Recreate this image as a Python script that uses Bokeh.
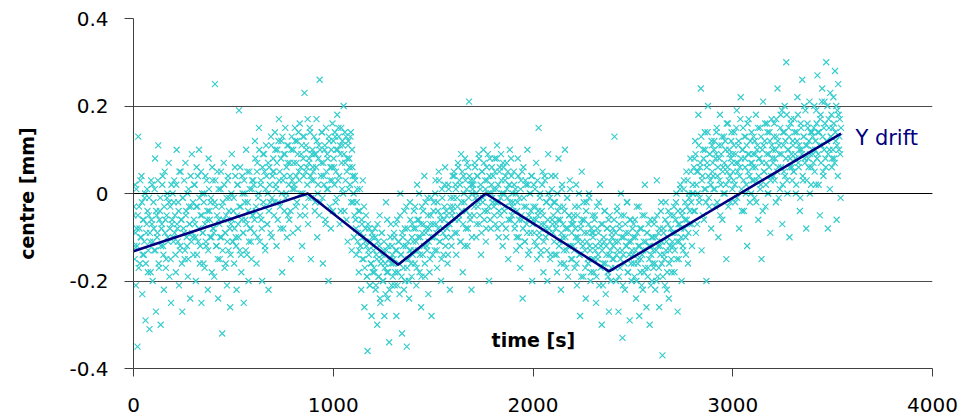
import numpy as np
from bokeh.plotting import figure
from bokeh.models import Range1d, FixedTicker, Label, Span
from bokeh.embed import file_html
from bokeh.resources import INLINE

# ---- data -------------------------------------------------------------
sample_step = 4  # seconds between samples of each channel read-out

# samples at t = 0, 4, 8, ... s
centre_y = [
    -0.05, -0.12, 0.02, -0.21, -0.08, -0.35, 0.13, -0.03, -0.16, -0.10, 0.04, -0.23, -0.06, -0.14, -0.01, -0.29, -0.09, 0.01, -0.18, -0.05, -0.31, -0.11, 0.03, -0.07, -0.20,
    -0.02, -0.13, 0.08, -0.27, -0.05, -0.09, 0.11, -0.17, -0.04, -0.30, -0.08, 0.02, -0.12, -0.22, 0.05, -0.06, -0.15, -0.01, -0.10, 0.07, -0.19, -0.03, -0.25, -0.07, 0.00,
    -0.11, 0.03, -0.05, -0.18, 0.10, -0.08, -0.02, -0.21, -0.13, 0.05, -0.06, -0.27, -0.01, -0.09, -0.15, 0.07, -0.04, -0.12, -0.19, 0.01, -0.07, -0.24, -0.03, 0.09, -0.10,
    -0.14, 0.02, -0.07, -0.20, 0.06, -0.03, -0.11, 0.10, -0.16, -0.05, -0.25, 0.00, -0.09, -0.02, -0.17, 0.04, -0.12, -0.06, -0.22, 0.08, -0.04, -0.10, -0.01, -0.18, 0.03,
    -0.08, -0.19, 0.25, -0.03, -0.12, 0.05, -0.24, -0.06, -0.15, 0.01, -0.10, -0.32, -0.02, 0.07, -0.17, -0.09, -0.05, -0.21, 0.03, -0.13, -0.01, -0.26, -0.07, 0.09, -0.11,
    -0.04, -0.16, 0.06, -0.10, -0.22, 0.02, -0.07, 0.19, -0.13, -0.03, -0.18, 0.04, -0.09, -0.25, 0.00, -0.06, 0.10, -0.14, -0.02, -0.20, 0.05, -0.08, -0.11, 0.01, -0.05,
    0.03, -0.09, 0.12, -0.04, -0.16, 0.07, -0.01, 0.15, -0.11, 0.02, -0.06, -0.20, 0.09, -0.03, 0.05, -0.13, 0.11, -0.07, 0.00, -0.22, 0.06, -0.02, 0.13, -0.10, 0.04,
    0.08, -0.05, 0.14, 0.02, -0.12, 0.10, -0.02, 0.17, 0.05, -0.08, 0.12, -0.18, 0.03, 0.09, -0.04, 0.15, 0.00, -0.10, 0.07, 0.11, -0.06, 0.04, -0.15, 0.13, 0.01,
    0.10, 0.02, 0.15, -0.03, 0.07, 0.12, -0.08, 0.05, 0.16, 0.00, 0.09, -0.12, 0.13, 0.04, 0.23, -0.05, 0.11, 0.06, 0.17, -0.01, 0.08, 0.14, -0.15, 0.03, 0.10,
    0.05, 0.13, -0.04, 0.09, 0.17, -0.10, 0.02, 0.11, 0.26, -0.02, 0.07, 0.14, -0.16, 0.04, 0.10, -0.06, 0.15, 0.01, 0.08, -0.20, 0.12, 0.03, -0.08, 0.06, 0.16,
    0.12, 0.06, 0.14, -0.02, 0.10, 0.18, 0.03, 0.13, -0.07, 0.09, 0.15, 0.01, 0.11, 0.20, -0.04, 0.07, 0.13, 0.05, -0.11, 0.12, 0.08, 0.02, 0.14, -0.13, 0.06,
    -0.02, -0.10, 0.04, -0.06, -0.14, 0.01, -0.09, -0.18, -0.04, -0.12, -0.22, -0.07, 0.03, -0.15, -0.26, -0.11, -0.05, -0.19, -0.36, -0.13, -0.08, -0.21, -0.16, -0.28, -0.10,
    -0.12, -0.17, -0.08, -0.22, -0.14, -0.30, -0.11, -0.19, -0.05, -0.25, -0.15, -0.09, -0.20, -0.13, -0.28, -0.16, -0.02, -0.18, -0.24, -0.12, -0.34, -0.15, -0.07, -0.21, -0.14,
    -0.16, -0.09, -0.21, -0.13, -0.28, -0.06, -0.18, -0.11, -0.23, 0.00, -0.14, -0.32, -0.10, -0.17, -0.04, -0.20, -0.12, -0.35, -0.08, -0.15, -0.24, -0.02, -0.13, -0.19, -0.07,
    -0.11, -0.04, -0.16, -0.08, -0.21, 0.02, -0.13, -0.06, -0.18, -0.10, -0.26, -0.03, -0.14, -0.07, 0.04, -0.19, -0.09, -0.12, -0.01, -0.23, -0.08, -0.15, -0.05, -0.28, -0.10,
    -0.07, -0.02, -0.13, 0.03, -0.09, -0.17, -0.04, 0.05, -0.11, -0.06, -0.20, 0.01, -0.08, -0.14, -0.03, 0.06, -0.10, -0.05, -0.16, 0.02, -0.07, -0.22, -0.01, -0.12, -0.04,
    -0.03, 0.05, -0.09, 0.02, -0.14, -0.01, 0.07, -0.06, 0.03, -0.11, 0.09, -0.04, -0.18, 0.04, -0.02, 0.08, -0.08, 0.01, -0.12, 0.06, 0.21, -0.05, 0.03, -0.22, 0.00,
    0.02, -0.05, 0.07, -0.01, -0.10, 0.04, -0.03, 0.09, -0.07, 0.01, -0.14, 0.05, -0.02, 0.10, -0.06, 0.03, -0.11, 0.06, -0.04, 0.00, -0.20, 0.08, -0.08, 0.02, -0.01,
    0.04, -0.03, 0.08, -0.07, 0.01, 0.11, -0.02, -0.10, 0.05, -0.05, 0.09, 0.00, -0.12, 0.06, -0.04, 0.03, -0.08, 0.07, -0.01, -0.15, 0.02, 0.10, -0.06, 0.04, -0.03,
    -0.02, 0.05, -0.08, 0.01, -0.13, -0.04, 0.08, -0.10, -0.01, -0.17, 0.03, -0.06, -0.24, 0.06, -0.03, -0.11, 0.02, -0.07, 0.10, -0.14, -0.05, 0.00, -0.09, 0.04, -0.20,
    -0.06, 0.02, -0.11, -0.03, 0.07, -0.15, -0.05, 0.15, -0.09, 0.00, -0.13, -0.04, 0.05, -0.18, -0.07, 0.03, -0.10, -0.02, -0.20, 0.09, -0.08, -0.01, -0.14, 0.04, -0.06,
    -0.09, -0.02, -0.14, 0.04, -0.07, -0.18, -0.04, 0.08, -0.11, -0.06, -0.22, 0.01, -0.10, -0.03, -0.16, 0.10, -0.08, -0.13, -0.01, -0.19, -0.05, 0.03, -0.12, -0.07, -0.15,
    -0.12, -0.05, -0.17, -0.08, 0.02, -0.21, -0.10, -0.03, -0.14, -0.28, -0.07, 0.05, -0.11, -0.19, -0.06, -0.13, -0.24, -0.02, -0.09, -0.16, 0.00, -0.12, -0.20, -0.08, -0.15,
    -0.10, -0.18, -0.06, -0.13, -0.25, -0.03, -0.15, -0.09, -0.21, 0.02, -0.12, -0.30, -0.07, -0.16, -0.11, -0.04, -0.23, -0.14, -0.08, -0.19, -0.27, -0.05, -0.13, -0.17, -0.10,
    -0.08, -0.15, 0.13, -0.11, -0.20, -0.04, -0.13, -0.27, -0.07, -0.17, 0.00, -0.10, -0.33, -0.14, -0.05, -0.22, -0.09, -0.12, -0.02, -0.18, -0.11, -0.29, -0.06, -0.16, -0.13,
    -0.14, -0.07, -0.19, -0.10, -0.24, -0.03, -0.16, -0.12, -0.28, -0.08, -0.15, -0.21, -0.05, -0.13, -0.18, 0.02, -0.11, -0.26, -0.09, -0.17, -0.12, -0.30, -0.06, -0.14, -0.20,
    -0.10, -0.17, -0.06, -0.22, -0.13, 0.03, -0.19, -0.09, -0.26, -0.12, -0.04, -0.16, -0.37, -0.08, -0.14, -0.21, -0.02, -0.11, -0.18, -0.07, -0.24, -0.13, -0.05, -0.15, -0.09,
    -0.12, -0.05, -0.18, -0.09, -0.02, -0.15, -0.27, -0.07, -0.11, 0.01, -0.08, -0.20, -0.04, -0.13, 0.03, -0.06, -0.10, 0.05, -0.03, -0.16, 0.00, -0.07, 0.08, -0.02, -0.12,
    0.02, -0.04, 0.08, 0.12, -0.09, 0.05, 0.00, 0.18, -0.02, 0.06, 0.24, -0.13, 0.04, 0.10, -0.06, 0.14, 0.01, -0.20, 0.07, 0.20, -0.01, 0.09, 0.03, -0.08, 0.11,
    0.07, 0.01, 0.12, -0.03, 0.09, 0.15, 0.04, -0.10, 0.08, 0.18, 0.02, 0.11, -0.06, 0.06, 0.13, 0.00, 0.10, -0.15, 0.05, 0.16, 0.03, 0.09, -0.02, 0.12, 0.07,
    0.09, 0.03, 0.14, -0.02, 0.07, 0.19, 0.05, 0.11, -0.08, 0.06, 0.22, 0.01, 0.10, 0.15, -0.04, 0.08, 0.13, 0.02, -0.12, 0.09, 0.17, 0.04, 0.12, 0.00, 0.07,
    0.06, 0.13, -0.01, 0.09, 0.18, 0.03, 0.11, -0.06, 0.08, 0.15, 0.02, -0.15, 0.10, 0.21, 0.05, 0.12, -0.03, 0.07, 0.16, 0.00, 0.09, 0.14, -0.09, 0.04, 0.11,
    0.10, 0.04, 0.16, 0.08, -0.02, 0.13, 0.24, 0.06, 0.11, 0.01, 0.18, 0.09, -0.07, 0.14, 0.05, 0.20, 0.12, 0.30, 0.03, 0.10, 0.15, -0.10, 0.08, 0.17, 0.06,
    0.12, 0.05, 0.17, 0.09, 0.00, 0.14, 0.22, 0.07, 0.11, -0.04, 0.16, 0.10, 0.26, 0.03, 0.13, 0.08, 0.19, -0.08, 0.11, 0.15, 0.06, 0.21, 0.09, 0.02, 0.14,
    0.13, 0.07, 0.20, 0.10, 0.02, 0.16, 0.27, 0.09, 0.14, -0.05, 0.18, 0.11, 0.24, 0.05, 0.15, 0.21, 0.08, 0.30, 0.12, -0.08, 0.17, 0.10, 0.23, 0.13, 0.06,
    0.15, 0.22, 0.08, 0.28, 0.12, -0.06, 0.19, 0.25, 0.10, 0.17, -0.01,
]

# samples at t = 2, 6, 10, ... s
centre_y_b = [
    -0.03, -0.15, -0.09, 0.01, -0.12, -0.05, -0.17, -0.08, 0.03, -0.10, -0.02, -0.14, -0.06, -0.11, 0.00, -0.16, -0.07, -0.04, -0.13, -0.01, -0.09, -0.18, -0.06, 0.02, -0.11,
    -0.08, 0.01, -0.13, -0.04, -0.10, 0.03, -0.16, -0.06, -0.01, -0.12, -0.07, 0.04, -0.14, -0.03, -0.09, -0.17, -0.05, 0.00, -0.11, -0.02, -0.08, -0.15, 0.02, -0.06, -0.10,
    -0.02, -0.09, -0.14, 0.02, -0.07, -0.11, -0.04, 0.05, -0.12, -0.06, -0.16, -0.01, -0.08, 0.03, -0.13, -0.05, -0.10, 0.00, -0.15, -0.03, -0.07, 0.04, -0.11, -0.09, -0.02,
    -0.06, 0.02, -0.10, -0.03, -0.14, 0.04, -0.08, -0.01, -0.12, 0.05, -0.05, -0.09, -0.16, 0.00, -0.07, -0.11, 0.03, -0.04, -0.13, 0.01, -0.06, -0.02, -0.10, 0.06, -0.08,
    -0.09, -0.02, 0.03, -0.12, -0.05, -0.15, 0.01, -0.07, -0.10, 0.05, -0.03, -0.13, -0.06, 0.02, -0.09, -0.16, -0.01, -0.11, 0.04, -0.04, -0.08, -0.14, 0.00, -0.06, -0.11,
    -0.01, -0.08, 0.04, -0.12, -0.05, 0.02, -0.10, -0.03, 0.06, -0.14, -0.06, 0.00, -0.09, 0.03, -0.02, -0.13, -0.07, 0.05, -0.04, -0.11, 0.01, -0.08, -0.15, 0.03, -0.05,
    0.02, -0.06, 0.08, -0.03, 0.05, -0.10, 0.00, 0.10, -0.05, 0.03, -0.08, 0.06, -0.02, 0.09, -0.12, 0.01, 0.04, -0.07, 0.07, -0.04, 0.02, -0.09, 0.11, -0.01, 0.05,
    0.05, -0.02, 0.10, 0.01, 0.07, -0.06, 0.12, 0.03, -0.03, 0.08, 0.00, 0.13, -0.08, 0.04, 0.09, -0.01, 0.06, 0.11, -0.05, 0.02, 0.07, -0.04, 0.10, 0.03, -0.09,
    0.07, 0.01, 0.12, 0.04, -0.02, 0.09, 0.14, 0.03, -0.05, 0.06, 0.11, 0.00, 0.08, 0.13, -0.03, 0.05, 0.10, 0.02, -0.07, 0.07, 0.15, 0.04, -0.01, 0.09, 0.06,
    0.03, 0.09, -0.02, 0.06, 0.12, 0.00, 0.08, -0.05, 0.10, 0.04, 0.14, -0.01, 0.07, 0.02, 0.11, -0.07, 0.05, 0.09, 0.01, 0.13, -0.03, 0.06, 0.10, 0.03, -0.04,
    0.08, 0.02, 0.13, 0.05, -0.01, 0.10, 0.15, 0.04, 0.11, -0.04, 0.07, 0.12, 0.00, 0.09, 0.14, 0.03, -0.06, 0.08, 0.11, 0.01, 0.06, 0.13, -0.02, 0.10, 0.04,
    0.00, -0.05, 0.03, -0.08, -0.02, -0.11, -0.04, -0.13, 0.01, -0.09, -0.06, -0.15, -0.10, -0.03, -0.17, -0.08, -0.12, -0.19, -0.07, -0.14, -0.21, -0.11, -0.16, -0.09, -0.18,
    -0.13, -0.18, -0.10, -0.21, -0.15, -0.07, -0.19, -0.12, -0.24, -0.16, -0.09, -0.14, -0.20, -0.11, -0.17, -0.23, -0.13, -0.06, -0.18, -0.15, -0.22, -0.10, -0.16, -0.12, -0.19,
    -0.15, -0.10, -0.18, -0.07, -0.13, -0.21, -0.11, -0.16, -0.05, -0.14, -0.19, -0.09, -0.12, -0.22, -0.08, -0.15, -0.03, -0.17, -0.11, -0.20, -0.13, -0.06, -0.16, -0.10, -0.14,
    -0.08, -0.13, -0.03, -0.11, -0.17, -0.06, -0.10, 0.00, -0.14, -0.07, -0.19, -0.09, -0.04, -0.12, -0.16, -0.02, -0.08, -0.13, -0.05, -0.11, -0.18, -0.07, -0.01, -0.10, -0.14,
    -0.04, -0.10, 0.00, -0.07, -0.13, -0.02, -0.08, 0.03, -0.11, -0.05, -0.15, -0.01, -0.09, -0.06, 0.02, -0.12, -0.04, -0.08, -0.14, 0.01, -0.07, -0.03, -0.10, -0.05, 0.04,
    -0.01, 0.04, -0.06, 0.01, -0.09, -0.03, 0.06, -0.05, 0.02, -0.11, -0.02, 0.05, -0.07, 0.00, -0.12, 0.03, -0.04, 0.07, -0.08, -0.01, 0.04, -0.06, 0.02, -0.10, 0.01,
    0.03, -0.03, 0.06, 0.00, -0.07, 0.04, -0.02, 0.08, -0.05, 0.02, -0.09, 0.05, -0.01, 0.07, -0.04, 0.01, -0.08, 0.03, 0.09, -0.03, 0.04, -0.06, 0.00, 0.06, -0.02,
    0.01, -0.05, 0.05, -0.02, 0.08, -0.08, 0.02, -0.04, 0.06, -0.01, 0.03, -0.07, 0.07, 0.00, -0.03, 0.04, -0.10, 0.01, 0.05, -0.06, 0.02, -0.02, 0.08, -0.05, 0.00,
    -0.04, 0.02, -0.07, 0.00, -0.10, -0.02, 0.04, -0.06, -0.12, 0.01, -0.05, 0.05, -0.08, -0.01, -0.11, 0.03, -0.03, -0.09, 0.02, -0.06, -0.13, 0.00, -0.04, 0.04, -0.07,
    -0.03, -0.09, 0.01, -0.06, -0.12, 0.03, -0.04, -0.10, -0.01, -0.14, -0.07, 0.02, -0.05, -0.11, 0.04, -0.08, -0.02, -0.13, -0.06, 0.00, -0.09, -0.15, -0.03, 0.01, -0.07,
    -0.05, -0.11, -0.02, -0.08, -0.14, 0.00, -0.06, -0.12, -0.03, -0.16, -0.09, 0.02, -0.07, -0.13, -0.04, -0.10, -0.17, -0.01, -0.08, -0.12, -0.05, 0.01, -0.15, -0.09, -0.06,
    -0.07, -0.13, -0.03, -0.10, -0.16, -0.05, -0.11, 0.00, -0.14, -0.08, -0.19, -0.06, -0.12, -0.02, -0.09, -0.17, -0.04, -0.11, -0.15, -0.07, -0.01, -0.13, -0.18, -0.09, -0.05,
    -0.09, -0.15, -0.05, -0.12, -0.19, -0.08, -0.14, -0.02, -0.11, -0.17, -0.07, -0.13, -0.21, -0.10, -0.04, -0.16, -0.12, -0.08, -0.18, -0.06, -0.14, -0.11, -0.20, -0.09, -0.15,
    -0.12, -0.06, -0.17, -0.09, -0.14, -0.03, -0.11, -0.19, -0.08, -0.15, -0.05, -0.13, -0.21, -0.10, -0.16, -0.07, -0.12, -0.02, -0.18, -0.09, -0.14, -0.06, -0.11, -0.20, -0.08,
    -0.10, -0.16, -0.06, -0.13, -0.20, -0.09, -0.15, -0.03, -0.12, -0.18, -0.08, -0.14, -0.22, -0.11, -0.05, -0.17, -0.13, -0.09, -0.19, -0.07, -0.15, -0.12, -0.21, -0.10, -0.16,
    -0.13, -0.07, -0.16, -0.10, -0.20, -0.05, -0.12, -0.17, -0.08, -0.14, -0.02, -0.11, -0.19, -0.09, -0.15, -0.06, -0.13, -0.22, -0.10, -0.04, -0.16, -0.12, -0.08, -0.18, -0.11,
    -0.09, -0.03, -0.13, -0.06, 0.00, -0.11, -0.04, -0.15, -0.07, 0.02, -0.10, -0.05, -0.12, 0.01, -0.08, -0.02, -0.14, -0.06, 0.03, -0.09, -0.01, -0.04, 0.05, -0.07, 0.00,
    0.00, 0.06, -0.04, 0.09, 0.02, -0.07, 0.05, 0.11, -0.01, 0.07, 0.13, 0.03, -0.05, 0.08, 0.01, 0.10, -0.02, 0.06, 0.14, 0.04, -0.03, 0.09, 0.02, 0.12, 0.05,
    0.04, 0.10, 0.01, 0.08, 0.14, -0.02, 0.06, 0.11, 0.03, -0.05, 0.09, 0.13, 0.05, 0.00, 0.07, 0.12, 0.02, 0.16, 0.06, -0.03, 0.10, 0.04, 0.08, 0.14, 0.01,
    0.05, 0.11, 0.02, 0.09, 0.15, -0.01, 0.07, 0.12, 0.04, 0.17, 0.08, -0.04, 0.10, 0.03, 0.13, 0.06, 0.00, 0.11, 0.16, 0.05, 0.09, -0.02, 0.07, 0.14, 0.03,
    0.09, 0.03, 0.12, 0.06, -0.02, 0.10, 0.15, 0.04, 0.08, 0.01, 0.13, 0.07, -0.04, 0.11, 0.05, 0.16, 0.02, 0.09, 0.14, 0.00, 0.06, 0.12, 0.03, 0.17, 0.08,
    0.07, 0.13, 0.03, 0.10, 0.17, 0.05, 0.12, -0.01, 0.09, 0.15, 0.06, 0.19, 0.02, 0.11, 0.14, 0.04, 0.08, 0.18, 0.00, 0.10, 0.13, 0.06, 0.16, 0.09, 0.03,
    0.11, 0.05, 0.14, 0.08, 0.02, 0.12, 0.18, 0.06, 0.10, -0.01, 0.15, 0.09, 0.04, 0.13, 0.20, 0.07, 0.11, 0.03, 0.16, 0.08, 0.12, 0.00, 0.14, 0.06, 0.10,
    0.09, 0.15, 0.05, 0.12, 0.19, 0.08, 0.14, 0.02, 0.11, 0.17, 0.07, 0.21, 0.13, 0.04, 0.10, 0.16, 0.06, 0.12, 0.20, 0.09, 0.15, 0.01, 0.13, 0.18, 0.08,
    0.10, 0.16, 0.07, 0.14, 0.20, 0.11, 0.04, 0.18, 0.13, 0.09, 0.15,
]

time_s = list(np.arange(len(centre_y)) * sample_step)
time_s_b = list(np.arange(len(centre_y_b)) * sample_step + sample_step // 2)

drift_x = [0, 872, 1325, 1763, 2381, 3542]
drift_y = [-0.132, 0.0, -0.163, 0.0, -0.178, 0.137]

y_ticks = [-0.4, -0.2, 0.0, 0.2, 0.4]
y_tick_labels = ["-0.4", "-0.2", "0", "0.2", "0.4"]
x_ticks = [0, 1000, 2000, 3000, 4000]

# ---- figure -----------------------------------------------------------
FONT = "DejaVu Sans"
p = figure(width=970, height=416, output_backend="svg", toolbar_location=None,
           x_range=Range1d(0, 4000), y_range=Range1d(-0.4, 0.4),
           min_border_left=133, min_border_right=38, min_border_top=18,
           min_border_bottom=48)
p.outline_line_color = None
p.background_fill_color = "white"
p.border_fill_color = "white"

p.scatter(time_s, centre_y, marker="x", size=8.5, line_color="#33CCCC",
          line_width=1.1)
p.scatter(time_s_b, centre_y_b, marker="x", size=8.5, line_color="#33CCCC",
          line_width=1.1)
p.line(drift_x, drift_y, line_color="#000080", line_width=2.5)

p.xgrid.grid_line_color = None
p.ygrid.grid_line_color = "#4a4a4a"
p.ygrid.grid_line_width = 1
p.add_layout(Span(location=0, dimension="width", line_color="black",
                  line_width=1.2))

p.yaxis.ticker = FixedTicker(ticks=y_ticks)
p.yaxis.major_label_overrides = {t: s for t, s in zip(y_ticks, y_tick_labels)}
p.xaxis.ticker = FixedTicker(ticks=x_ticks)

for ax in (p.xaxis, p.yaxis):
    ax.axis_line_color = "#404040"
    ax.major_tick_line_color = "#404040"
    ax.minor_tick_line_color = None
    ax.major_tick_in = 0
    ax.major_label_text_font = FONT
    ax.major_label_text_font_size = "20px"
    ax.major_label_text_color = "black"
p.yaxis.major_tick_out = 9
p.xaxis.major_tick_out = 8
p.yaxis.major_label_standoff = 16
p.xaxis.major_label_standoff = 21

p.yaxis.axis_label = "centre [mm]"
p.yaxis.axis_label_text_font = FONT
p.yaxis.axis_label_text_font_style = "bold"
p.yaxis.axis_label_text_font_size = "19px"
p.yaxis.axis_label_text_color = "black"
p.yaxis.axis_label_standoff = 28

p.add_layout(Label(x=2002, y=-0.335, text="time [s]", text_font=FONT,
                   text_font_style="bold", text_font_size="19px",
                   text_align="center", text_baseline="middle",
                   text_color="black"))
p.add_layout(Label(x=3614, y=0.126, text="Y drift", text_font=FONT,
                   text_font_size="21px", text_align="left",
                   text_baseline="middle", text_color="#000080"))

open("out.html", "w").write(file_html(p, INLINE))
